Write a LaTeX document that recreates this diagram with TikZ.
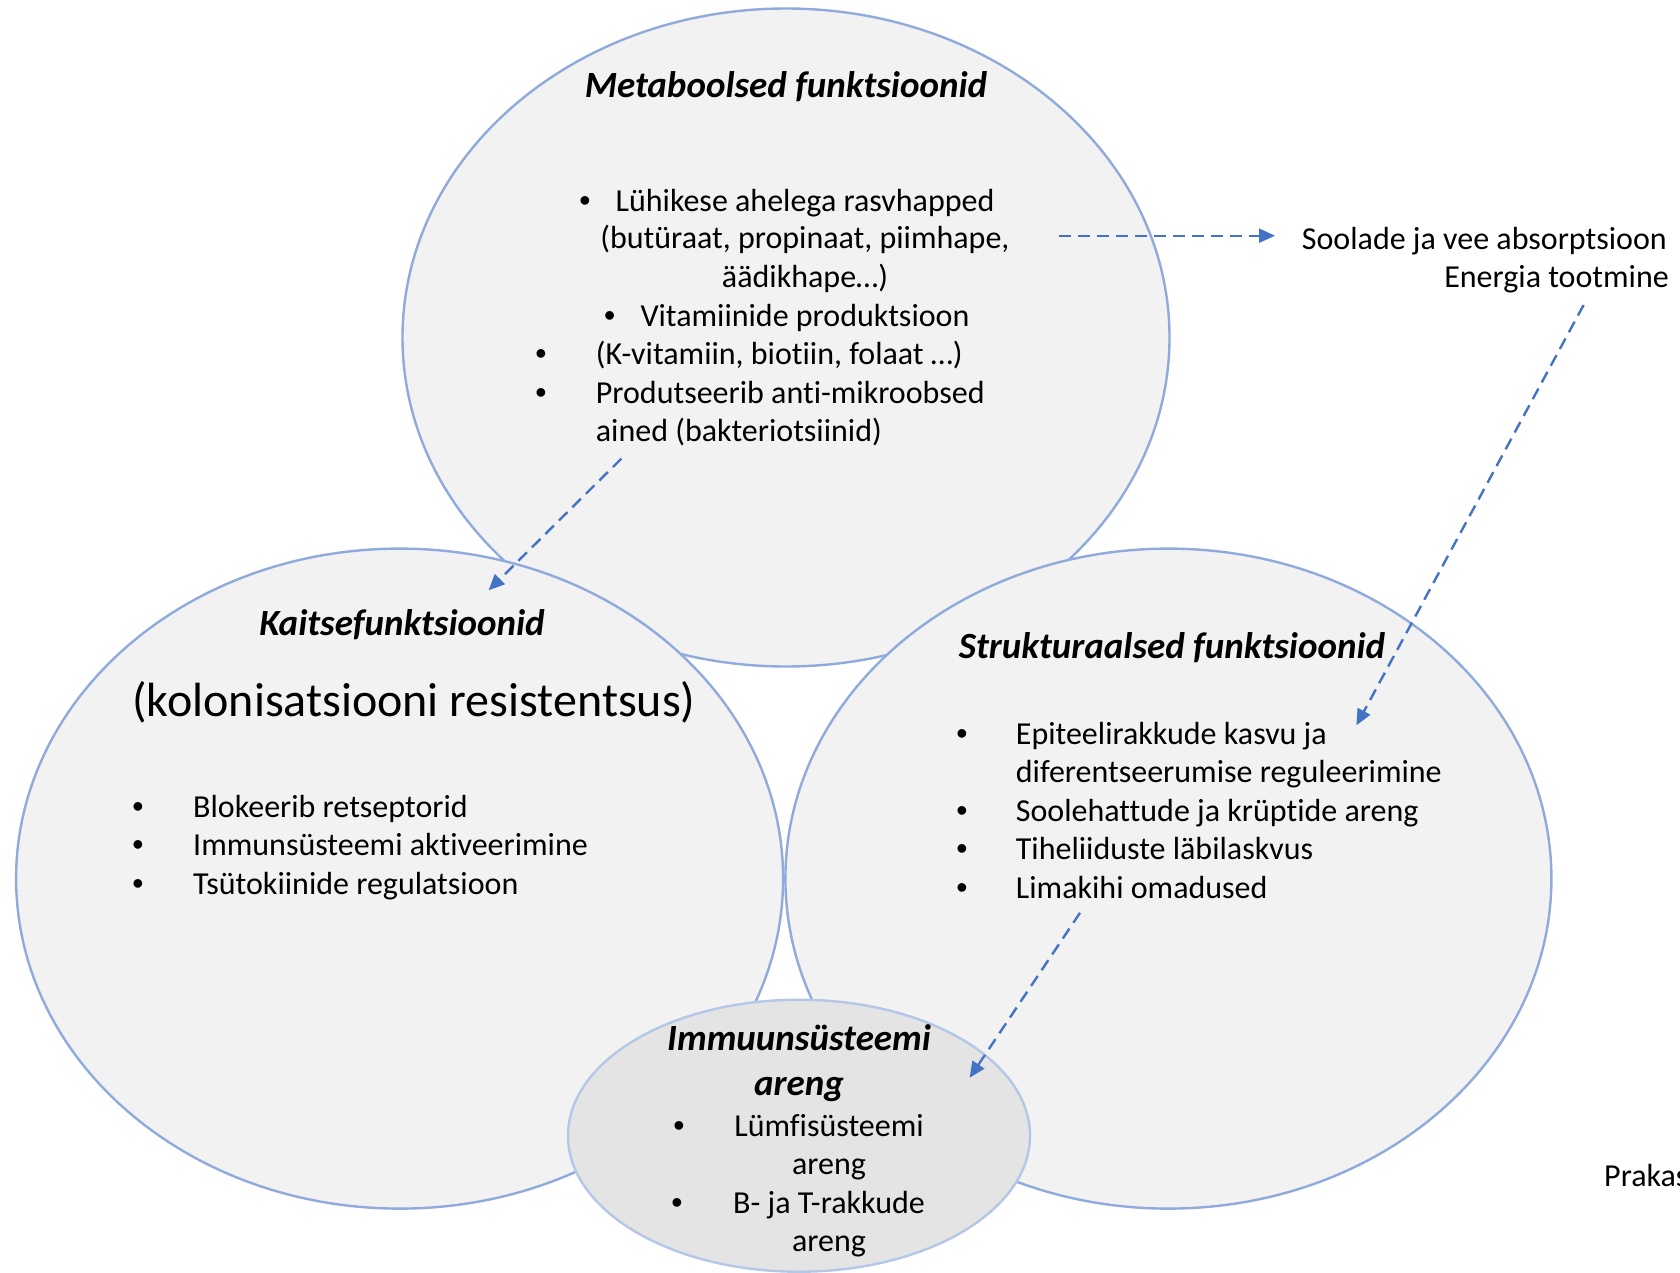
\documentclass[tikz,border=0pt]{standalone}
\usepackage{fontspec}
\setmainfont{Carlito}[RawFeature={-liga;-clig;-calt;-dlig}]
\newfontfamily\bulfont{Liberation Sans}
\usetikzlibrary{shapes.geometric,arrows.meta}
\definecolor{ellfill}{HTML}{F2F2F2}
\definecolor{ellfilldark}{HTML}{E4E4E4}
\definecolor{ellline}{HTML}{8FAADC}
\definecolor{ellline2}{HTML}{B4C7E7}
\definecolor{arrowblue}{HTML}{4472C4}
\begin{document}
\begin{tikzpicture}[x=1pt,y=-1pt,
  blob/.style={ellipse, draw=ellline, line width=2.4pt, fill=ellfill, inner sep=0pt},
  ttl/.style={font=\fontsize{37}{45}\selectfont\bfseries\itshape, inner sep=0pt, anchor=base},
  txt/.style={font=\fontsize{32}{38.6}\selectfont, inner sep=0pt, anchor=base west},
  ctxt/.style={txt, anchor=base},
  rtxt/.style={txt, anchor=base east},
  bul/.style={font=\bulfont\fontsize{32}{38.6}\selectfont, inner sep=0pt, anchor=base},
  big/.style={font=\fontsize{48}{58}\selectfont, inner sep=0pt, anchor=base},
  link/.style={draw=arrowblue, line width=2.4pt, dash pattern=on 12pt off 7pt,
    -{Triangle[length=16pt,width=14pt,fill=arrowblue]}},
]
\useasboundingbox (0,0) rectangle (1680,1272);
\clip (0,0) rectangle (1680,1272);

% ellipses
\node[blob, minimum width=767pt, minimum height=658pt] (met) at (786,337.5) {};
\node[blob, minimum width=767pt, minimum height=660pt] (kai) at (399.6,878.6) {};
\node[blob, minimum width=766pt, minimum height=660pt] (str) at (1168.4,878.6) {};
\node[blob, draw=ellline2, fill=ellfilldark, minimum width=462pt, minimum height=272pt] (imm) at (799,1135.7) {};

% Metaboolsed
\node[ttl] (metT) at (786,97) {Metaboolsed funktsioonid};
\node[bul] (m1b) at (585,211.4) {•};
\node[ctxt] (m1) at (805,211.4) {Lühikese ahelega rasvhapped};
\node[ctxt] (m2) at (805,248.9) {(butüraat, propinaat, piimhape,};
\node[ctxt] (m3) at (805,287.5) {äädikhape…)};
\node[bul] (m4b) at (609.6,326) {•};
\node[ctxt] (m4) at (805,326) {Vitamiinide produktsioon};
\node[bul] (m5b) at (541,364.6) {•};
\node[txt] (m5) at (595.7,364.6) {(K-vitamiin, biotiin, folaat …)};
\node[bul] (m6b) at (541,403.2) {•};
\node[txt] (m6) at (595.7,403.2) {Produtseerib anti-mikroobsed};
\node[txt] (m7) at (595.7,441.8) {ained (bakteriotsiinid)};

% Soolade
\node[rtxt] (sol1) at (1667,249) {Soolade ja vee absorptsioon};
\node[rtxt] (sol2) at (1669,287.5) {Energia tootmine};

% Kaitse
\node[ttl] (kaiT) at (402,635) {Kaitsefunktsioonid};
\node[big] (kaiB) at (414,716) {(kolonisatsiooni resistentsus)};
\node[bul] (k1b) at (138,817) {•};
\node[txt] (k1) at (193,817) {Blokeerib retseptorid};
\node[bul] (k2b) at (138,855.5) {•};
\node[txt] (k2) at (193,855.5) {Immunsüsteemi aktiveerimine};
\node[bul] (k3b) at (138,894) {•};
\node[txt] (k3) at (193,894) {Tsütokiinide regulatsioon};

% Struktur
\node[ttl] (strT) at (1172,658) {Strukturaalsed funktsioonid};
\node[bul] (s1b) at (962,744) {•};
\node[txt] (s1) at (1015.7,744) {Epiteelirakkude kasvu ja};
\node[txt] (s2) at (1015.7,782.5) {diferentseerumise reguleerimine};
\node[bul] (s3b) at (962,821) {•};
\node[txt] (s3) at (1015.7,821) {Soolehattude ja krüptide areng};
\node[bul] (s4b) at (962,859.6) {•};
\node[txt] (s4) at (1015.7,859.6) {Tiheliiduste läbilaskvus};
\node[bul] (s5b) at (962,898.2) {•};
\node[txt] (s5) at (1015.7,898.2) {Limakihi omadused};

% Immuun
\node[ttl] (immT1) at (799,1050) {Immuunsüsteemi};
\node[ttl] (immT2) at (799,1095) {areng};
\node[bul] (i1b) at (679,1136) {•};
\node[ctxt] (i1) at (829,1136) {Lümfisüsteemi};
\node[ctxt] (i2) at (829,1174.6) {areng};
\node[bul] (i3b) at (677,1213) {•};
\node[ctxt] (i3) at (829,1213) {B- ja T-rakkude};
\node[ctxt] (i4) at (829,1251.8) {areng};

% source
\node[txt] (src) at (1604,1186) {Prakas};

% connectors
\coordinate (a1s) at (1058.6,235.7);
\coordinate (a1e) at (1275,235.7);
\coordinate (a2s) at (1583.6,305);
\coordinate (a2e) at (1356.4,725.3);
\coordinate (a3s) at (621.4,458.6);
\coordinate (a3e) at (488.6,590.3);
\coordinate (a4s) at (1080,912.8);
\coordinate (a4e) at (969.6,1077.8);
\draw[link] (a1s) -- (a1e);
\draw[link] (a2s) -- (a2e);
\draw[link] (a3s) -- (a3e);
\draw[link] (a4s) -- (a4e);
\end{tikzpicture}
\end{document}
